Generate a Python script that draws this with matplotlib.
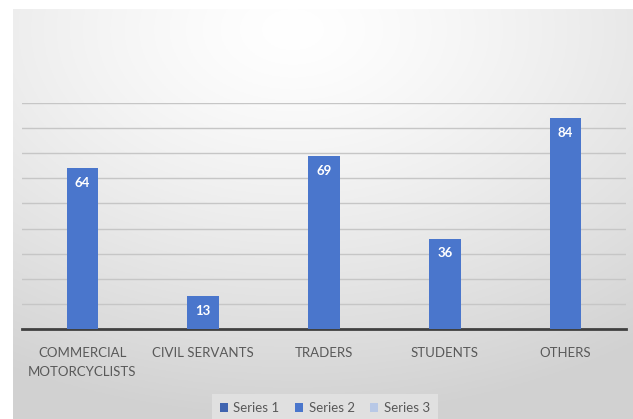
import numpy as np
import matplotlib
matplotlib.use("Agg")
from matplotlib import pyplot as plt
from matplotlib.patches import Patch

categories = ["COMMERCIAL\nMOTORCYCLISTS", "CIVIL SERVANTS", "TRADERS", "STUDENTS", "OTHERS"]
series1 = [64, 13, 69, 36, 84]
series_names = ["Series 1", "Series 2", "Series 3"]
series_colors = ["#4064b0", "#4a76cc", "#b8c8e6"]

W, H = 633, 419
plt.rcParams['font.family'] = ['Lato', 'DejaVu Sans']
fig = plt.figure(figsize=(W / 100, H / 100), dpi=100)
fig.patch.set_facecolor("white")

# radial gradient backdrop (chart area)
bg = fig.add_axes([13 / W, 0, 620 / W, 410 / H])
yy, xx = np.mgrid[0:200, 0:300]
cx, cy = 135, 10
d = np.sqrt(((xx - cx) / 300) ** 2 + ((yy - cy) / 200) ** 2)
d = np.clip(d / 0.95, 0, 1)
v = 1.0 - 0.18 * d ** 1.3
bg.imshow(np.dstack([v, v, v]), aspect="auto", extent=[0, 1, 0, 1], origin="upper")
bg.set_axis_off()

ax = fig.add_axes([22 / W, (H - 329) / H, 604 / W, 226 / H])
ax.patch.set_alpha(0)
x = np.arange(len(categories))
bars = ax.bar(x, series1, width=0.26, color="#4a76cc", zorder=3)

for b, val in zip(bars, series1):
    ax.text(b.get_x() + b.get_width() / 2, val - 3.5, str(val), ha="center", va="top",
            color="white", fontsize=9.5, fontweight="bold", zorder=4)

ax.set_xlim(-0.5, len(categories) - 0.5)
ax.set_ylim(0, 90)
ax.set_yticks(np.arange(10, 91, 10))
ax.yaxis.grid(True, color="#c6c6c6", linewidth=1)
ax.set_axisbelow(True)
ax.tick_params(axis="y", left=False, labelleft=False)
ax.tick_params(axis="x", length=0, pad=13, labelsize=9.5, labelcolor="#595959")
ax.set_xticks(x)
ax.set_xticklabels(categories, linespacing=1.65)
for s in ["top", "right", "left"]:
    ax.spines[s].set_visible(False)
ax.spines["bottom"].set_color("#404040")
ax.spines["bottom"].set_linewidth(2)

handles = [Patch(facecolor=c, edgecolor="none") for c in series_colors]
leg = fig.legend(handles, series_names, loc="center", bbox_to_anchor=(325 / W, 11 / H), ncol=3,
                 frameon=True, fontsize=9.5, handlelength=0.6, handleheight=0.6,
                 handletextpad=0.4, columnspacing=1.2, borderpad=0.6)
leg.get_frame().set_facecolor("#e4e4e4")
leg.get_frame().set_edgecolor("none")
leg.get_frame().set_boxstyle("square", pad=0)
for t in leg.get_texts():
    t.set_color("#595959")

fig.savefig("out.png", dpi=100)
